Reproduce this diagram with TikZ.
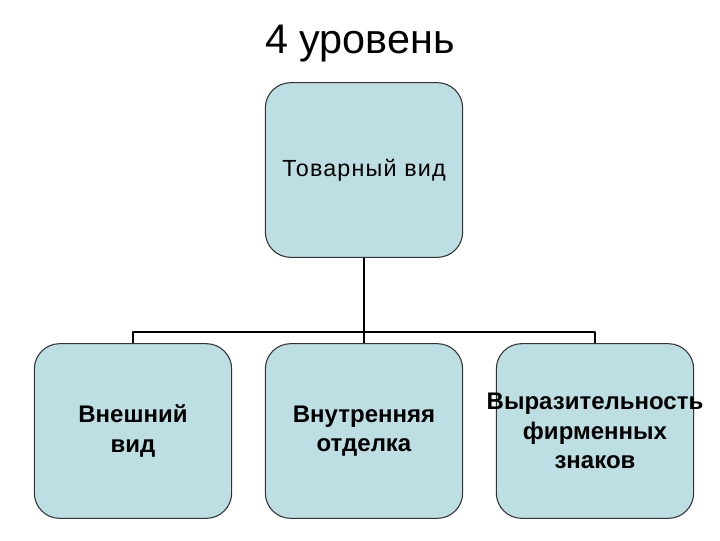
\documentclass[tikz,border=0pt]{standalone}
\usepackage{fontspec}
\setmainfont{Liberation Sans}
\usepackage{xcolor}
\usetikzlibrary{positioning}

\definecolor{boxfill}{RGB}{189,223,227}

\tikzset{
    levelbox/.style={draw=black!80, line width=0.8pt, fill=boxfill,
        rounded corners=19pt, minimum width=148pt, minimum height=131pt,
        align=center, inner sep=0pt,
        font=\fontsize{17.5pt}{22pt}\selectfont\addfontfeatures{LetterSpace=5}},
    subbox/.style={levelbox, font=\fontsize{18pt}{22pt}\selectfont\bfseries},
    conn/.style={draw=black, line width=2pt}
}

\begin{document}
\begin{tikzpicture}[x=0.75pt, y=-0.75pt, line join=round]

    % Frame
    \useasboundingbox (0,0) rectangle (720,540);

    % Title
    \node (title) at (360,44) {\fontsize{31pt}{36pt}\selectfont 4 уровень};

    % Top box
    \node[levelbox] (tov) at (364,170) {Товарный вид};

    % Bottom boxes
    \node[subbox] (vn) at (133,431) {Внешний\\вид};
    \node[subbox] (vnut) at (364,431) {Внутренняя\\отделка};
    \node[subbox] (vyr) at (595,431) {\makebox[0pt]{Выразительность}\\фирменных\\знаков};

    % Connectors
    \draw[conn] (tov.south) -- (vnut.north);
    \draw[conn] (vn.north) -- ++(0,-11) -| (vyr.north);

\end{tikzpicture}
\end{document}
